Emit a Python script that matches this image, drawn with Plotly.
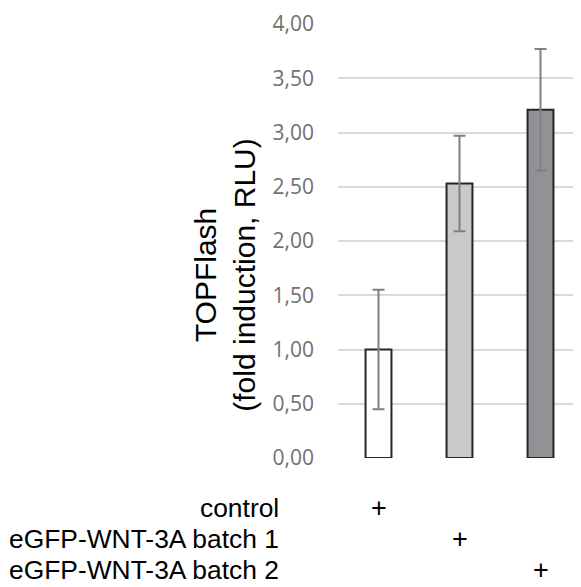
import plotly.graph_objects as go

categories = ["control", "eGFP-WNT-3A batch 1", "eGFP-WNT-3A batch 2"]
values = [1.00, 2.53, 3.21]
errors = [0.55, 0.44, 0.56]
bar_colors = ["#ffffff", "#c8c9cb", "#919295"]
tick_vals = [0, 0.5, 1.0, 1.5, 2.0, 2.5, 3.0, 3.5, 4.0]
tick_text = ["0,00", "0,50", "1,00", "1,50", "2,00", "2,50", "3,00", "3,50", "4,00"]
row_levels = [-0.115, -0.187, -0.259]  # paper coordinates of the treatment rows

fig = go.Figure()
fig.add_trace(go.Bar(
    x=list(range(len(categories))),
    y=values,
    width=0.32,
    marker=dict(color=bar_colors, line=dict(color="#262626", width=2)),
    error_y=dict(type="data", array=errors, visible=True,
                 color="#808080", thickness=2, width=6),
    showlegend=False,
))

annotations = []
for i, cat in enumerate(categories):
    annotations.append(dict(
        x=0, xref="paper", y=row_levels[i], yref="paper",
        text=cat, showarrow=False, xanchor="right", yanchor="middle",
        xshift=-57,
        font=dict(family="Liberation Sans, Arial", size=26.4, color="#000000"),
    ))
    annotations.append(dict(
        x=i, xref="x", y=row_levels[i], yref="paper",
        text="+", showarrow=False, xanchor="center", yanchor="middle",
        font=dict(family="Liberation Sans, Arial", size=27, color="#000000"),
    ))

annotations.append(dict(
    x=0, xref="paper", y=0.42, yref="paper",
    text="TOPFlash<br>(fold induction, RLU)", textangle=-90,
    showarrow=False, xanchor="center", yanchor="middle", xshift=-113,
    font=dict(family="Liberation Sans, Arial", size=30, color="#000000"),
))

fig.update_layout(
    width=573, height=579,
    margin=dict(l=330, r=0, t=16, b=129),
    paper_bgcolor="white", plot_bgcolor="white",
    annotations=annotations,
    xaxis=dict(range=[-0.5, 2.5], showticklabels=False, showgrid=False,
               zeroline=False, showline=False, ticks=""),
    yaxis=dict(range=[0, 4.0], tickvals=tick_vals, ticktext=tick_text,
               showgrid=True, gridcolor="#d9d9d9", gridwidth=1.5,
               zeroline=False, showline=False, ticks="",
               ticklabelstandoff=23,
               tickfont=dict(family="Open Sans", size=21, color="#707070")),
)

fig.write_html("out.html")
